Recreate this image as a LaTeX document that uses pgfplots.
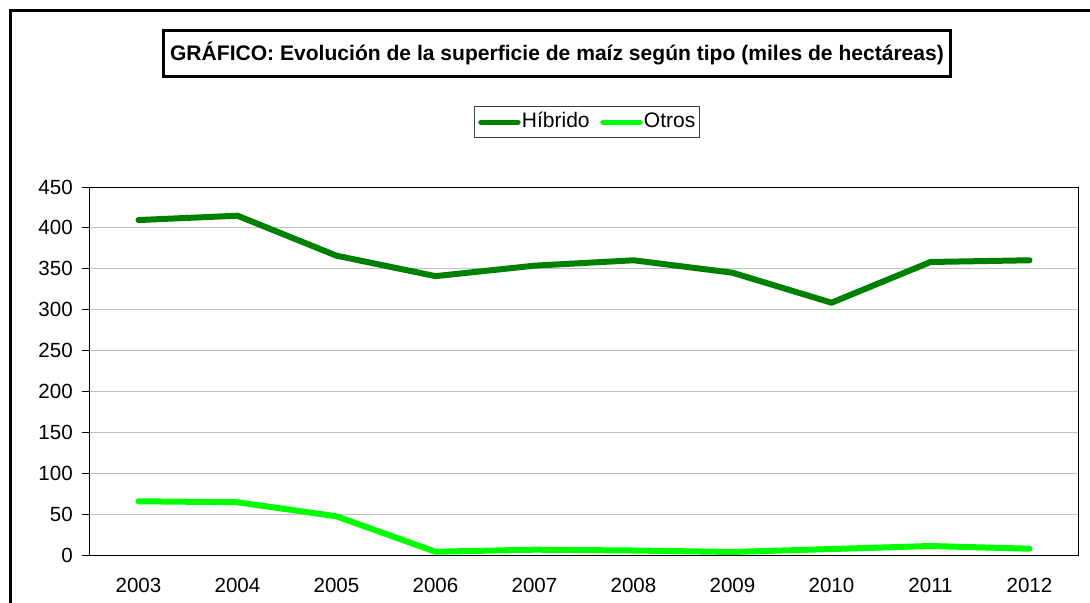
\documentclass[border=0pt]{standalone}
\usepackage{pgfplots}
\pgfplotsset{compat=1.18}
\usepackage{fontspec}
\setmainfont{Liberation Sans}
\definecolor{hib}{HTML}{008000}
\definecolor{otr}{HTML}{00FF00}
\definecolor{gridc}{HTML}{C0C0C0}
\pgfplotstableread{
x y
0 409.6
1 414.9
2 366.0
3 341.0
4 353.8
5 360.4
6 345.2
7 308.5
8 358.3
9 360.4
}\hibrido
\pgfplotstableread{
x y
0 65.7
1 64.5
2 47.3
3 4.0
4 6.5
5 5.5
6 3.7
7 7.3
8 11.0
9 7.7
}\otros
\begin{document}
\begin{tikzpicture}[x=0.75pt,y=-0.75pt]
\useasboundingbox[fill=white] (0,0) rectangle (1090,603);
\draw[line width=1.875pt] (10.5,603) -- (10.5,10.5) -- (1090,10.5);
\node[draw, line width=2.25pt, minimum width=590.25pt, minimum height=34.5pt, inner sep=0pt,
  font=\fontsize{15.8}{18}\selectfont\bfseries] at (557,53.5)
  {GRÁFICO: Evolución de la superficie de maíz según tipo (miles de hectáreas)};
\begin{axis}[
  scale only axis,
  width=742.5pt, height=276pt,
  at={(66.75pt,-416.25pt)}, anchor=south west,
  xmin=-0.5, xmax=9.5, ymin=0, ymax=450,
  xtick={0,...,9},
  xticklabels={2003,2004,2005,2006,2007,2008,2009,2010,2011,2012},
  major x tick style={draw=none},
  extra x ticks={-0.5,0.5,1.5,2.5,3.5,4.5,5.5,6.5,7.5,8.5,9.5},
  extra x tick labels={},
  extra x tick style={major tick length=4.5pt, tick style={black, line width=0.75pt}, xtick pos=bottom},
  xtick pos=bottom,
  ytick pos=left,
  ytick={0,50,...,450},
  tick align=outside,
  major tick length=5.25pt,
  tick style={black, line width=0.75pt},
  ymajorgrids,
  grid style={gridc, line width=0.75pt},
  axis line style={black, line width=0.75pt},
  /pgf/number format/assume math mode=true,
  ticklabel style={font=\fontsize{15.4}{18}\selectfont},
  yticklabel style={inner sep=0pt, xshift=-6.75pt},
  xticklabel style={inner sep=0pt, yshift=-12pt},
  legend columns=2,
  legend style={at={(0.5035,1)}, anchor=south, yshift=36.75pt,
    draw=black!75, line width=0.75pt, inner xsep=2.5pt, inner ysep=4pt,
    font=\fontsize{15.75}{18}\selectfont,
    nodes={inner xsep=1pt, inner ysep=0pt, text height=11.5pt, text depth=3.5pt},
    /tikz/every even column/.append style={column sep=7pt}},
  legend image code/.code={\draw[#1, line width=3.75pt, line cap=round] (0pt,0pt) -- (28pt,0pt);},
]
\addplot[hib, line width=4.5pt, line join=round, line cap=round] table[x=x,y=y] {\hibrido};
\addlegendentry{Híbrido}
\addplot[otr, line width=4.5pt, line join=round, line cap=round] table[x=x,y=y] {\otros};
\addlegendentry{Otros}
\end{axis}
\end{tikzpicture}
\end{document}
